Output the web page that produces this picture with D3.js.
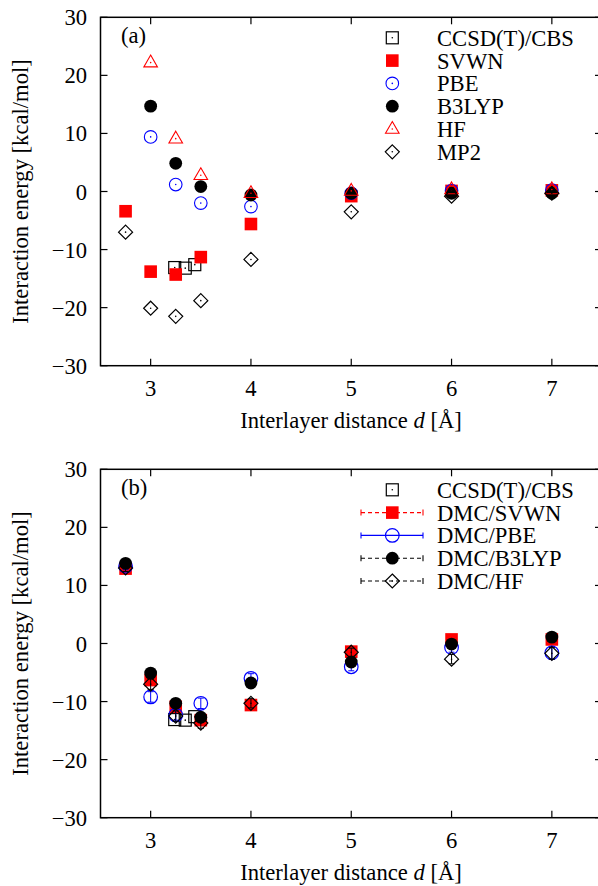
<!DOCTYPE html>
<html><head><meta charset="utf-8">
<script src="https://cdn.jsdelivr.net/npm/d3@7"></script>
<style>body{margin:0;background:#fff}svg text{font-family:"Liberation Serif","Tinos","Times New Roman","Nimbus Roman","DejaVu Serif",serif;fill:#000}</style>
</head><body><svg id="c" width="598" height="886"></svg>
<script>
// ---- data ----
const dist = [2.75, 3, 3.25, 3.5, 4, 5, 6, 7];
const xTicks = [3, 4, 5, 6, 7];
const yTicks = [-30, -20, -10, 0, 10, 20, 30];
const ccsdX = [3.24, 3.345, 3.44];
const ccsdY = [-13.1, -13.2, -12.6];
// panel (a)
const svwnA  = [-3.4, -13.8, -14.3, -11.3, -5.6, -0.8, 0.1, 0.2];
const pbeA   = [null, 9.4, 1.2, -2.0, -2.6, -0.3, 0.15, 0.25];
const b3lypA = [null, 14.7, 4.85, 0.85, -0.6, -0.3, -0.3, -0.3];
const hfA    = [null, 22.2, 9.1, 2.8, -0.3, 0.1, 0.35, 0.35];
const mp2A   = [-7.0, -20.1, -21.5, -18.8, -11.7, -3.5, -0.8, -0.3];
// panel (b)
const dmcSvwn  = [12.9, -6.3, -10.9, -13.2, -10.6, -1.4, 0.7, 0.7];
const dmcPbe   = [13.3, -9.2, -12.3, -10.3, -6.0, -4.0, -0.7, -1.6];
const dmcB3lyp = [13.8, -5.1, -10.3, -12.7, -6.8, -3.2, -0.1, 1.1];
const dmcHf    = [13.0, -7.0, -12.5, -13.7, -10.3, -1.5, -2.7, -1.7];
const errSvwn  = [0.6, 0.7, 0.8, 0.8, 0.7, 0.6, 0.6, 0.7];
const errPbe   = [0.6, 0.9, 0.9, 0.9, 0.8, 0.7, 0.8, 1.1];
const errB3lyp = [0.6, 0.8, 0.8, 0.8, 0.7, 0.7, 0.7, 0.8];
const errHf    = [0.6, 0.9, 0.9, 0.9, 0.8, 0.7, 0.8, 1.0];

const svg = d3.select("#c");
// calibrate font size so the legend string matches the reference width (137px)
const probe = svg.append("text").attr("font-size", 22.5).text("CCSD(T)/CBS");
const w = probe.node().getComputedTextLength();
probe.remove();
const FS = Math.max(18, Math.min(24, 22.5 * 137 / (w || 137)));
svg.style("font-size", FS + "px");

const L = 100.5, R = 602;

function marker(g, type, cx, cy) {
  const s = g.append("g").attr("transform", `translate(${cx},${cy})`);
  const dot = c => s.append("circle").attr("r", 0.8).attr("fill", c);
  switch (type) {
    case "boxOpen":
      s.append("rect").attr("x", -6).attr("y", -6).attr("width", 12).attr("height", 12)
        .attr("fill", "none").attr("stroke", "#000").attr("stroke-width", 1.2); dot("#000"); break;
    case "boxFill":
      s.append("rect").attr("x", -6.3).attr("y", -6.3).attr("width", 12.6).attr("height", 12.6).attr("fill", "#ff0000"); break;
    case "circOpenDot":
      s.append("circle").attr("r", 6.3).attr("fill", "none").attr("stroke", "#0000ff").attr("stroke-width", 1.1); dot("#0000ff"); break;
    case "circOpen":
      s.append("circle").attr("r", 6.8).attr("fill", "none").attr("stroke", "#0000ff").attr("stroke-width", 1.2); break;
    case "circFill":
      s.append("circle").attr("r", 6.4).attr("fill", "#000"); break;
    case "tri":
      s.append("path").attr("d", "M0,-7.5L6.8,4.3L-6.8,4.3Z").attr("fill", "none").attr("stroke", "#ff0000").attr("stroke-width", 1.1); dot("#ff0000"); break;
    case "diam":
      s.append("path").attr("d", "M0,-7L7,0L0,7L-7,0Z").attr("fill", "none").attr("stroke", "#000").attr("stroke-width", 1.2); dot("#000"); break;
  }
}

function panel(top, label, seriesList, legendItems, withErr) {
  const bottom = top + 348.4;
  const x = d3.scaleLinear().domain([2.5, 7.5]).range([L, R]);
  const y = d3.scaleLinear().domain([-30, 30]).range([bottom, top]);
  const g = svg.append("g");
  const tk = 7;
  yTicks.forEach(v => {
    g.append("line").attr("x1", L).attr("x2", L + tk).attr("y1", y(v)).attr("y2", y(v)).attr("stroke", "#000").attr("stroke-width", 1.2);
    g.append("line").attr("x1", R).attr("x2", R - tk).attr("y1", y(v)).attr("y2", y(v)).attr("stroke", "#000").attr("stroke-width", 1.2);
    g.append("text").attr("x", 87).attr("y", y(v) + 8).attr("text-anchor", "end").text(String(v).replace("-", "\u2212"));
  });
  xTicks.forEach(v => {
    g.append("line").attr("x1", x(v)).attr("x2", x(v)).attr("y1", bottom).attr("y2", bottom - tk).attr("stroke", "#000").attr("stroke-width", 1.2);
    g.append("line").attr("x1", x(v)).attr("x2", x(v)).attr("y1", top).attr("y2", top + tk).attr("stroke", "#000").attr("stroke-width", 1.2);
    g.append("text").attr("x", x(v)).attr("y", bottom + 30).attr("text-anchor", "middle").text(v);
  });
  g.append("rect").attr("x", L).attr("y", top).attr("width", R - L).attr("height", bottom - top)
    .attr("fill", "none").attr("stroke", "#000").attr("stroke-width", 1.5);
  const xl = g.append("text").attr("x", 351).attr("y", bottom + 62).attr("text-anchor", "middle");
  xl.append("tspan").text("Interlayer distance ");
  xl.append("tspan").attr("font-style", "italic").text("d");
  xl.append("tspan").text(" [\u00c5]");
  g.append("text").attr("transform", `translate(28,${(top + bottom) / 2}) rotate(-90)`).attr("text-anchor", "middle")
    .text("Interaction energy [kcal/mol]");
  g.append("text").attr("x", 121).attr("y", top + 26).text(label);
  const mk = g.append("g");
  seriesList.forEach(s => {
    s.ys.forEach((v, i) => {
      if (v === null) return;
      const xx = x(s.xs[i]);
      if (withErr && s.err) {
        const e = s.err[i];
        const eg = mk.append("g").attr("stroke", s.color).attr("stroke-width", 1);
        eg.append("line").attr("x1", xx).attr("x2", xx).attr("y1", y(v - e)).attr("y2", y(v + e));
        eg.append("line").attr("x1", xx - 3).attr("x2", xx + 3).attr("y1", y(v - e)).attr("y2", y(v - e));
        eg.append("line").attr("x1", xx - 3).attr("x2", xx + 3).attr("y1", y(v + e)).attr("y2", y(v + e));
      }
      marker(mk, s.type, xx, y(v));
    });
  });
  legendItems.forEach((it, i) => {
    const ly = top + 20.5 + i * 22.8;
    if (it.line) {
      const lg = g.append("g").attr("stroke", it.color).attr("stroke-width", 1.1);
      lg.append("line").attr("x1", 361).attr("x2", 423).attr("y1", ly).attr("y2", ly).attr("stroke-dasharray", it.dash || null);
      lg.append("line").attr("x1", 361).attr("x2", 361).attr("y1", ly - 3).attr("y2", ly + 3);
      lg.append("line").attr("x1", 423).attr("x2", 423).attr("y1", ly - 3).attr("y2", ly + 3);
    }
    marker(g, it.type, 392.3, ly);
    g.append("text").attr("x", 437).attr("y", ly + 8).text(it.name);
  });
}

const ccsd = {xs: ccsdX, ys: ccsdY, type: "boxOpen"};
panel(17.3, "(a)", [
  ccsd,
  {xs: dist, ys: svwnA, type: "boxFill"},
  {xs: dist, ys: pbeA, type: "circOpenDot"},
  {xs: dist, ys: b3lypA, type: "circFill"},
  {xs: dist, ys: hfA, type: "tri"},
  {xs: dist, ys: mp2A, type: "diam"}
], [
  {name: "CCSD(T)/CBS", type: "boxOpen"},
  {name: "SVWN", type: "boxFill"},
  {name: "PBE", type: "circOpenDot"},
  {name: "B3LYP", type: "circFill"},
  {name: "HF", type: "tri"},
  {name: "MP2", type: "diam"}
], false);

panel(469.3, "(b)", [
  ccsd,
  {xs: dist, ys: dmcSvwn, err: errSvwn, type: "boxFill", color: "#ff0000"},
  {xs: dist, ys: dmcPbe, err: errPbe, type: "circOpen", color: "#0000ff"},
  {xs: dist, ys: dmcB3lyp, err: errB3lyp, type: "circFill", color: "#000"},
  {xs: dist, ys: dmcHf, err: errHf, type: "diam", color: "#000"}
], [
  {name: "CCSD(T)/CBS", type: "boxOpen"},
  {name: "DMC/SVWN", type: "boxFill", line: true, color: "#ff0000", dash: "4,3"},
  {name: "DMC/PBE", type: "circOpen", line: true, color: "#0000ff"},
  {name: "DMC/B3LYP", type: "circFill", line: true, color: "#000", dash: "4,3"},
  {name: "DMC/HF", type: "diam", line: true, color: "#000", dash: "4,3"}
], true);
</script></body></html>
